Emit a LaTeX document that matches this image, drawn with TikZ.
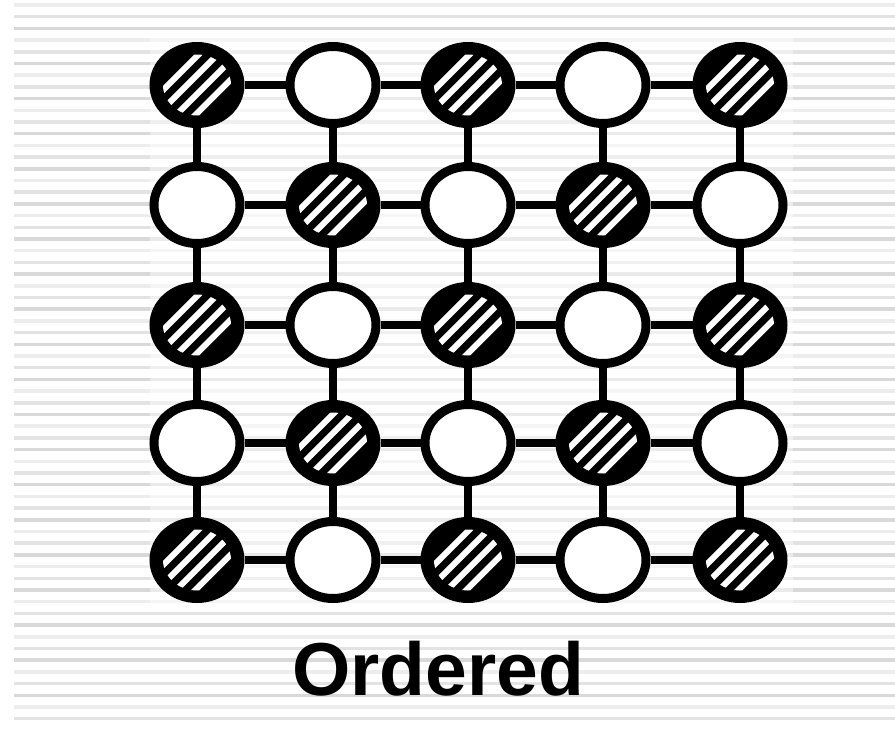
\documentclass[tikz,border=0pt]{standalone}
\usepackage{fontspec}
\setmainfont{Liberation Sans}
\usetikzlibrary{shapes.geometric}
\begin{document}
\begin{tikzpicture}[x=1pt,y=-1pt,
 cell/.style={ellipse, draw=black, line width=9pt, minimum width=86pt, minimum height=77pt, inner sep=0pt, fill=white},
 hatched/.style={cell, fill=black, path picture={
   \begin{scope}[shift={(path picture bounding box.center)}]
   \clip (0,0) ellipse [x radius=34pt, y radius=30.5pt];
   \foreach \d in {-20.5,-7,6.5,20}{
     \draw[white, line width=6pt] (\d*0.7071-45, \d*0.7071+45) -- (\d*0.7071+45, \d*0.7071-45);
   }
   \end{scope}}},
 link/.style={line width=8pt, draw=black},
 bgstripe/.style={line width=3.5pt}
]
\useasboundingbox (0,0) rectangle (895,729);
\fill[white] (0,0) rectangle (895,729);
% background stripes
\foreach \i in {0,...,61}{
  \pgfmathtruncatemacro\g{7+mod(\i*7,3)*4}
  \draw[bgstripe, black!\g] (14,{5+11.7*\i}) -- (895,{5+11.7*\i});
}
\fill[white, opacity=0.45] (150,35) rectangle (793,607);
% nodes
\foreach \r/\y in {1/85,2/205,3/325,4/443,5/560}{
  \foreach \c/\x in {1/197,2/333,3/468,4/603,5/740}{
    \pgfmathtruncatemacro\p{mod(\r+\c,2)}
    \ifnum\p=0
      \node[hatched] (n\r\c) at (\x,\y) {};
    \else
      \node[cell] (n\r\c) at (\x,\y) {};
    \fi
  }
}
% horizontal links
\foreach \r in {1,...,5}{
  \foreach \c [evaluate=\c as \cn using int(\c+1)] in {1,...,4}{
    \draw[link] (n\r\c.east) -- (n\r\cn.west);
  }
}
% vertical links
\foreach \r [evaluate=\r as \rn using int(\r+1)] in {1,...,4}{
  \foreach \c in {1,...,5}{
    \draw[link] (n\r\c.south) -- (n\rn\c.north);
  }
}
\node[font=\bfseries\fontsize{75}{75}\selectfont, anchor=base, inner sep=0pt] (lbl) at (438,695) {Ordered};
\end{tikzpicture}
\end{document}
